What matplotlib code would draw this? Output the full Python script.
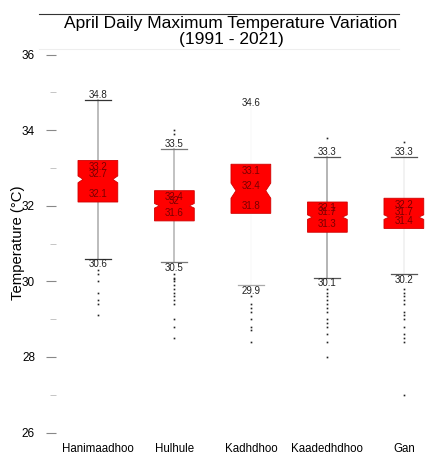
import numpy as np
import matplotlib.pyplot as plt
from matplotlib.lines import Line2D
from matplotlib.patches import Polygon

plt.rcParams['font.family'] = ['Liberation Sans', 'DejaVu Sans']

# ============================
# Data
# ============================
stations = ['Hanimaadhoo', 'Hulhule', 'Kadhdhoo', 'Kaadedhdhoo', 'Gan']
q1 = [32.1, 31.6, 31.8, 31.3, 31.4]
med = [32.7, 32.0, 32.4, 31.7, 31.7]
q3 = [33.2, 32.4, 33.1, 32.1, 32.2]
whisk_lo = [30.6, 30.5, 29.9, 30.1, 30.2]
whisk_hi = [34.8, 33.5, 34.6, 33.3, 33.3]
notch_half = [0.09, 0.06, 0.20, 0.06, 0.06]   # half-height of notch (deg C)
outliers = [
    [30.3, 30.2, 30.0, 29.7, 29.5, 29.4, 29.1],
    [34.0, 33.9, 30.2, 30.1, 30.05, 30.0, 29.9, 29.8, 29.7, 29.6, 29.5, 29.4, 29.0, 28.8, 28.5],
    [29.6, 29.4, 29.3, 29.2, 29.0, 28.8, 28.7, 28.4],
    [33.8, 29.8, 29.7, 29.6, 29.5, 29.4, 29.3, 29.2, 29.0, 28.9, 28.8, 28.6, 28.4, 28.0],
    [33.7, 29.8, 29.7, 29.6, 29.5, 29.4, 29.2, 29.1, 29.0, 28.8, 28.6, 28.5, 28.4, 27.0],
]

# per-box whisker look (some whiskers are barely visible in the original)
whisk_col = ['#b0b0b0', '#b8b8b8', '#fbfbfb', '#a8a8a8', '#f0f0f0']
cap_col = ['#333333', '#777777', '#aaaaaa', '#555555', '#555555']
show_hi_cap = [True, True, False, True, True]

# ============================
# Figure
# ============================
fig = plt.figure(figsize=(4.36, 4.62), dpi=100)
ax = fig.add_axes([0.128, 0.054, 0.872, 0.84])

pos = np.arange(1, len(stations) + 1)
half_w = 0.26
cap_w = 0.17

for i, x in enumerate(pos):
    # whisker
    ax.plot([x, x], [whisk_lo[i], q1[i]], color=whisk_col[i], lw=1.2, zorder=1)
    ax.plot([x, x], [q3[i], whisk_hi[i]], color=whisk_col[i], lw=1.2, zorder=1)
    # caps
    ax.plot([x - cap_w, x + cap_w], [whisk_lo[i]] * 2, color=cap_col[i], lw=0.9, zorder=2)
    if show_hi_cap[i]:
        ax.plot([x - cap_w, x + cap_w], [whisk_hi[i]] * 2, color=cap_col[i], lw=0.9, zorder=2)
    # notched box
    inner = half_w * 0.75
    nh = notch_half[i]
    verts = [
        (x - half_w, q1[i]), (x + half_w, q1[i]),
        (x + half_w, med[i] - nh), (x + inner, med[i]), (x + half_w, med[i] + nh),
        (x + half_w, q3[i]), (x - half_w, q3[i]),
        (x - half_w, med[i] + nh), (x - inner, med[i]), (x - half_w, med[i] - nh),
    ]
    ax.add_patch(Polygon(verts, closed=True, facecolor='#ff0000',
                         edgecolor='#d00000', lw=0.6, zorder=3))
    # outliers
    ax.plot([x] * len(outliers[i]), outliers[i], ls='none', marker='s',
            ms=1.2, color='#222222', mew=0, zorder=2)

    # box labels
    ax.annotate(f'{q3[i]:g}', (x, q3[i]), xytext=(0, -1), textcoords='offset points',
                ha='center', va='top', fontsize=7, color='#7a0000', zorder=4)
    ax.annotate(f'{med[i]:g}', (x, med[i]), xytext=(0, 0), textcoords='offset points',
                ha='center', va='bottom', fontsize=7, color='#7a0000', zorder=4)
    ax.annotate(f'{q1[i]:g}', (x, q1[i]), xytext=(0, 2), textcoords='offset points',
                ha='center', va='bottom', fontsize=7, color='#7a0000', zorder=4)
    # whisker labels
    ax.annotate(f'{whisk_hi[i]:g}', (x, whisk_hi[i]), xytext=(0, 0), textcoords='offset points',
                ha='center', va='bottom', fontsize=7, color='#222222', zorder=4)
    ax.annotate(f'{whisk_lo[i]:g}', (x, whisk_lo[i]), xytext=(0, -0.5), textcoords='offset points',
                ha='center', va='top', fontsize=7, color='#222222', zorder=4)

ax.set_xlim(0.45, 5.42)
ax.set_ylim(25.88, 36.15)
ax.set_xticks(pos)
ax.set_xticklabels(stations, fontsize=8.3)
ax.set_yticks(np.arange(26, 37, 2))
ax.set_yticks(np.arange(27, 36, 2), minor=True)
ax.tick_params(axis='y', which='major', labelsize=8.5, length=7, color='#888888', pad=8)
ax.tick_params(axis='y', which='minor', length=4, color='#bbbbbb')
ax.tick_params(axis='x', length=0, pad=4)
for s in ax.spines.values():
    s.set_visible(False)
ax.set_ylabel('Temperature (°C)', fontsize=10.7)
ax.yaxis.set_label_coords(-0.08, 0.5)

# title with lines above and below
fig.text(0.53, 0.932, 'April Daily Maximum Temperature Variation\n(1991 - 2021)',
         ha='center', va='center', fontsize=12.5, linespacing=1.1)
fig.add_artist(Line2D([0.09, 0.915], [0.970, 0.970], color='#333333', lw=0.8))
fig.add_artist(Line2D([0.09, 0.915], [0.894, 0.894], color='#eeeeee', lw=0.8))

plt.savefig('out.png', dpi=100)
